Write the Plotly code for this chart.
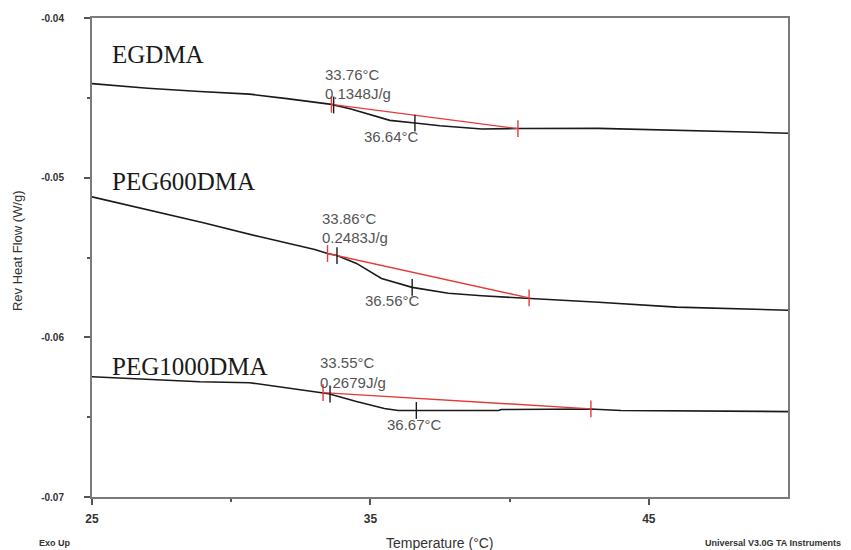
import plotly.graph_objects as go

# ---------------- data ----------------
# Temperatures (°C) and reversing heat flow (W/g)
egdma_T = [25.0, 27.0, 28.87, 30.66, 32.0, 33.0, 33.6, 34.3, 35.0, 35.7, 36.6, 37.5, 39.0, 40.3, 43.2, 46.0, 48.5, 50.0]
egdma_v = [-0.04411, -0.04440, -0.04460, -0.04477, -0.04505, -0.04528, -0.04541, -0.04570, -0.04605, -0.04641,
           -0.04658, -0.04675, -0.04695, -0.04692, -0.04691, -0.04701, -0.04714, -0.04722]

peg600_T = [25.0, 27.0, 29.0, 31.0, 33.0, 33.46, 33.8, 34.5, 35.4, 36.5, 37.8, 39.0, 40.7, 43.2, 46.0, 48.5, 50.0]
peg600_v = [-0.05120, -0.05201, -0.05282, -0.05369, -0.05450, -0.05475, -0.05488, -0.05537, -0.05631, -0.05687,
            -0.05724, -0.05740, -0.05755, -0.05780, -0.05811, -0.05824, -0.05830]

peg1000_T = [25.0, 28.87, 30.66, 32.0, 33.3, 33.5, 34.5, 35.5, 36.0, 36.65, 39.6, 39.7, 42.9, 44.0, 47.7, 50.0]
peg1000_v = [-0.06247, -0.06278, -0.06284, -0.06315, -0.06346, -0.06353, -0.06402, -0.06446, -0.06458, -0.06458,
             -0.06458, -0.06452, -0.06449, -0.06458, -0.06465, -0.06465]

# Red baseline (step) lines: onset -> end
egdma_red_T = [33.6, 40.3]
egdma_red_v = [-0.04541, -0.04693]
peg600_red_T = [33.46, 40.7]
peg600_red_v = [-0.05475, -0.05753]
peg1000_red_T = [33.3, 42.92]
peg1000_red_v = [-0.06346, -0.06448]

# Black markers (midpoint / end of transition)
egdma_blk_T = [33.68, 36.6]
egdma_blk_v = [-0.04545, -0.04658]
peg600_blk_T = [33.8, 36.5]
peg600_blk_v = [-0.05488, -0.05687]
peg1000_blk_T = [33.55, 36.65]
peg1000_blk_v = [-0.06355, -0.06458]

sample_names = ["EGDMA", "PEG600DMA", "PEG1000DMA"]
sample_label_T = [25.65, 25.65, 25.65]
sample_label_v = [-0.0423, -0.05027, -0.06185]

ann_texts = ["33.76°C", "0.1348J/g", "36.64°C",
             "33.86°C", "0.2483J/g", "36.56°C",
             "33.55°C", "0.2679J/g", "36.67°C"]
ann_T = [33.30, 33.30, 34.70, 33.19, 33.19, 34.73, 33.12, 33.12, 35.52]
ann_v = [-0.04355, -0.04473, -0.04741, -0.05257, -0.05375, -0.05768, -0.06160, -0.06284, -0.06546]

x_ticks = [25, 35, 45]
y_ticks = [-0.04, -0.05, -0.06, -0.07]
y_tick_labels = ["-0.04", "-0.05", "-0.06", "-0.07"]

# ---------------- figure ----------------
RED = "#e53a3a"
BLK = "#1a1a1a"
fig = go.Figure()

for T, v in [(egdma_T, egdma_v), (peg600_T, peg600_v), (peg1000_T, peg1000_v)]:
    fig.add_trace(go.Scatter(x=T, y=v, mode="lines", line=dict(color=BLK, width=1.6),
                             showlegend=False, hoverinfo="skip"))

for T, v in [(egdma_red_T, egdma_red_v), (peg600_red_T, peg600_red_v), (peg1000_red_T, peg1000_red_v)]:
    fig.add_trace(go.Scatter(x=T, y=v, mode="lines+markers", line=dict(color=RED, width=1.4),
                             marker=dict(symbol="line-ns-open", size=12, color=RED,
                                         line=dict(color=RED, width=1.4)),
                             showlegend=False, hoverinfo="skip"))

for T, v in [(egdma_blk_T, egdma_blk_v), (peg600_blk_T, peg600_blk_v), (peg1000_blk_T, peg1000_blk_v)]:
    fig.add_trace(go.Scatter(x=T, y=v, mode="markers",
                             marker=dict(symbol="line-ns-open", size=12, color=BLK,
                                         line=dict(color=BLK, width=1.4)),
                             showlegend=False, hoverinfo="skip"))

annotations = []
for name, T, v in zip(sample_names, sample_label_T, sample_label_v):
    annotations.append(dict(x=T, y=v, xref="x", yref="y", text=name, showarrow=False,
                            xanchor="left", yanchor="middle",
                            font=dict(family="Liberation Serif, Times New Roman, serif", size=25, color=BLK)))
for t, T, v in zip(ann_texts, ann_T, ann_v):
    annotations.append(dict(x=T, y=v, xref="x", yref="y", text=t, showarrow=False,
                            xanchor="left", yanchor="middle",
                            font=dict(family="Liberation Sans, Arial, sans-serif", size=15, color="#555555")))

L, R, TOP, BOT = 92, 788, 16, 497
def px(xp):
    return (xp - L) / (R - L)
def py(yp):
    return (BOT - yp) / (BOT - TOP)

annotations += [
    dict(x=px(440), y=py(543), xref="paper", yref="paper",
         text="Temperature (°C)", showarrow=False, xanchor="center", yanchor="middle",
         font=dict(family="Liberation Sans, Arial, sans-serif", size=14, color="#333333")),
    dict(x=px(17), y=py(250), xref="paper", yref="paper",
         text="Rev Heat Flow (W/g)", showarrow=False, textangle=-90, xanchor="center", yanchor="middle",
         font=dict(family="Liberation Sans, Arial, sans-serif", size=13, color="#333333")),
    dict(x=px(55), y=py(543), xref="paper", yref="paper",
         text="<b>Exo Up</b>", showarrow=False, xanchor="center", yanchor="middle",
         font=dict(family="Liberation Sans Narrow, Arial Narrow, sans-serif", size=9, color="#333333")),
    dict(x=px(843), y=py(543), xref="paper", yref="paper",
         text="<b>Universal V3.0G TA Instruments</b>", showarrow=False, xanchor="right", yanchor="middle",
         font=dict(family="Liberation Sans Narrow, Arial Narrow, sans-serif", size=9, color="#333333")),
]

fig.update_layout(
    width=851, height=550,
    margin=dict(l=L, r=851 - R, t=TOP, b=550 - BOT),
    paper_bgcolor="white", plot_bgcolor="white",
    annotations=annotations,
    xaxis=dict(range=[25, 50], tickvals=x_ticks, ticktext=[f"<b>{t}</b>" for t in x_ticks],
               ticks="outside", ticklen=6, tickcolor="#555555", tickwidth=1.5,
               minor=dict(tickvals=[30, 40], ticks="outside", ticklen=3, tickcolor="#555555"),
               showline=True, linecolor="#7a7a7a", linewidth=2, mirror=True,
               showgrid=False, zeroline=False, ticklabelstandoff=4,
               tickfont=dict(family="Liberation Sans, Arial, sans-serif", size=12, color="#333333")),
    yaxis=dict(range=[-0.07, -0.04], tickvals=y_ticks, ticktext=[f"<b>{t}</b>" for t in y_tick_labels],
               ticks="outside", ticklen=6, tickcolor="#555555", tickwidth=1.5,
               minor=dict(tickvals=[-0.045, -0.055, -0.065], ticks="outside", ticklen=3, tickcolor="#555555"),
               showline=True, linecolor="#7a7a7a", linewidth=2, mirror=True,
               showgrid=False, zeroline=False, ticklabelstandoff=18,
               tickfont=dict(family="Liberation Sans, Arial, sans-serif", size=10, color="#333333")),
)

fig.write_html("out.html")
